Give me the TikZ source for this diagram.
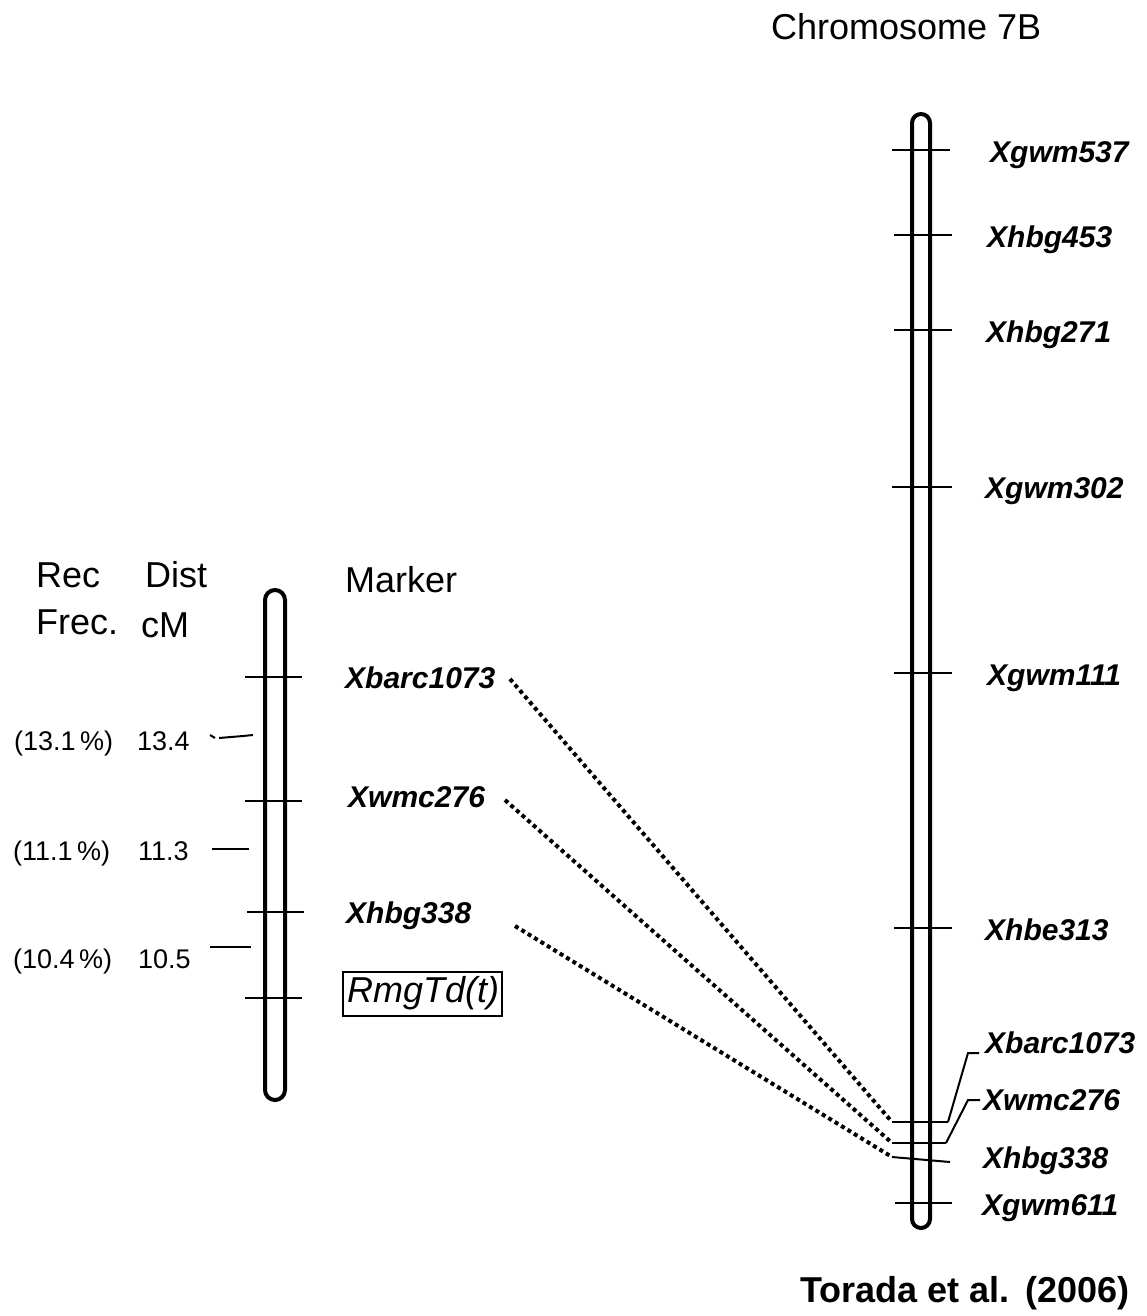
\documentclass[tikz,border=0pt]{standalone}
\usepackage{fontspec}
\setmainfont{Liberation Sans}
\begin{document}
\begin{tikzpicture}[x=1pt,y=-1pt,
  chrom/.style={line width=4pt},
  tickline/.style={line width=2pt},
  lbl/.style={anchor=base west, inner sep=0pt, font=\fontsize{36}{40}\selectfont},
  mk/.style={anchor=base west, inner sep=0pt, font=\fontsize{30}{34}\selectfont\bfseries\itshape},
  num/.style={anchor=base west, inner sep=0pt, font=\fontsize{27}{30}\selectfont},
  dots/.style={line width=4pt, dash pattern=on 4pt off 3.5pt}]
\useasboundingbox (0,0) rectangle (1146,1316);

% titles
\node[lbl] (title) at (771,40) {Chromosome 7B};
\node[lbl, font=\fontsize{36}{40}\selectfont\bfseries] (cite) at (800,1302) {Torada et al.\ \,(2006)};

% column headers
\node[lbl] (rec) at (36,587) {Rec};
\node[lbl] (frec) at (36,634) {Frec.};
\node[lbl] (dist) at (145,587) {Dist};
\node[lbl] (cm) at (141,637) {cM};
\node[lbl] (marker) at (345,592) {Marker};

% left chromosome
\draw[chrom, rounded corners=10pt] (265,590) rectangle (285,1100);
\draw[tickline] (245,677) -- (302,677);
\draw[tickline] (245,801) -- (302,801);
\draw[tickline] (247,912) -- (304,912);
\draw[tickline] (245,998) -- (302,998);

% interval ticks
\draw[tickline] (210,735) -- (215,738);
\draw[tickline] (219,738) -- (243,736) -- (253,735);
\draw[tickline] (212,849) -- (249,849);
\draw[tickline] (210,947) -- (251,947);

% interval values
\node[num] (p1) at (14,750) {(13.1\,\%)};
\node[num] (d1) at (137,750) {13.4};
\node[num] (p2) at (13,860) {(11.1\,\%)};
\node[num] (d2) at (138,860) {11.3};
\node[num] (p3) at (13,968) {(10.4\,\%)};
\node[num] (d3) at (138,968) {10.5};

% left markers
\node[mk] (lbarc) at (345,688) {Xbarc1073};
\node[mk] (lwmc) at (348,807) {Xwmc276};
\node[mk] (lhbg) at (346,923) {Xhbg338};
\node[lbl, font=\fontsize{36}{40}\selectfont\itshape] (rmg) at (347,1002) {RmgTd(t)};
\draw[line width=1.5pt] (343,972) rectangle (502,1016);

% right chromosome
\draw[chrom, rounded corners=9pt] (912,114) rectangle (930,1228);
\draw[tickline] (892,150) -- (950,150);
\draw[tickline] (894,235) -- (952,235);
\draw[tickline] (894,330) -- (952,330);
\draw[tickline] (892,487) -- (952,487);
\draw[tickline] (894,673) -- (952,673);
\draw[tickline] (894,928) -- (952,928);
\coordinate (rb1) at (892,1122);
\coordinate (rb1e) at (948,1122);
\coordinate (rw1) at (892,1143);
\coordinate (rw1e) at (946,1143);
\coordinate (rh1) at (892,1157);
\coordinate (rh1e) at (950,1162);
\draw[tickline] (rb1) -- (rb1e);
\draw[tickline] (rw1) -- (rw1e);
\draw[tickline] (rh1) -- (rh1e);
\draw[tickline] (895,1203) -- (952,1203);

% right labels
\node[mk] (r1) at (990,163) {Xgwm537};
\node[mk] (r2) at (987,247) {Xhbg453};
\node[mk] (r3) at (986,342) {Xhbg271};
\node[mk] (r4) at (985,498) {Xgwm302};
\node[mk] (r5) at (987,685) {Xgwm111};
\node[mk] (r6) at (985,940) {Xhbe313};
\node[mk] (r7) at (985,1053) {Xbarc1073};
\node[mk] (r8) at (983,1110) {Xwmc276};
\node[mk] (r9) at (983,1168) {Xhbg338};
\node[mk] (r10) at (982,1215) {Xgwm611};

% leaders
\coordinate (lb) at (979,1053);
\coordinate (lw) at (980,1100);
\draw[tickline] (rb1e) -- (968,1053) -- (lb);
\draw[tickline] (rw1e) -- (968,1100) -- (lw);

% dotted connectors
\coordinate (s1) at (510,679);
\coordinate (s2) at (505,800);
\coordinate (s3) at (515,926);
\draw[dots] (s1) -- (rb1);
\draw[dots] (s2) -- (rw1);
\draw[dots] (s3) -- (rh1);
\end{tikzpicture}
\end{document}
